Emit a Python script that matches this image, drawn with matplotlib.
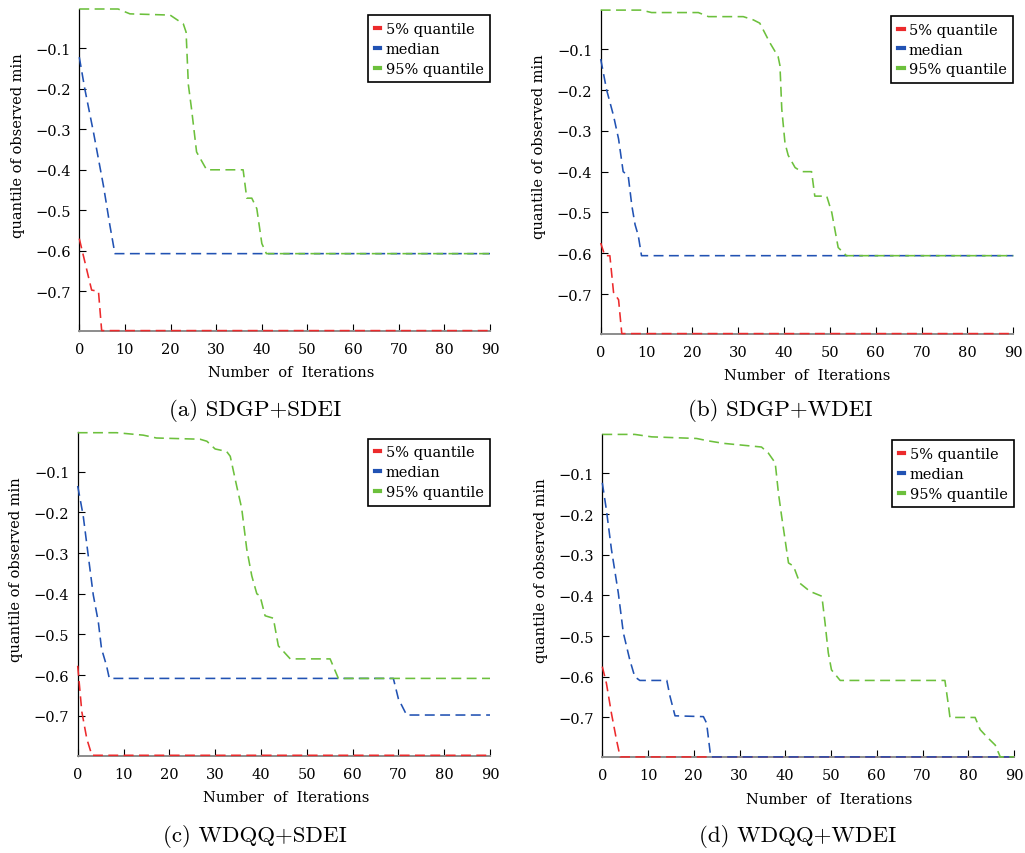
import matplotlib
matplotlib.use("Agg")
import matplotlib.pyplot as plt

# breakpoints: iteration -> quantile of observed min
a_x5 = [0, 2.7, 4.2, 4.9, 90]
a_y5 = [-0.57, -0.697, -0.70, -0.797, -0.797]
a_x50 = [0, 1.2, 3.1, 5.3, 6.7, 7.8, 90]
a_y50 = [-0.122, -0.20, -0.307, -0.44, -0.537, -0.607, -0.607]
a_x95 = [0, 8.5, 11.1, 19.9, 22.8, 23.4, 23.9, 24.6, 25.7, 27.9, 35.9, 36.7, 37.8, 38.9, 40.0, 41.0, 90]
a_y95 = [-0.003, -0.003, -0.015, -0.018, -0.04, -0.06, -0.19, -0.25, -0.356, -0.40, -0.40, -0.47, -0.47,
         -0.496, -0.582, -0.607, -0.607]

b_x5 = [0, 0.9, 2.0, 2.8, 3.9, 4.6, 90]
b_y5 = [-0.575, -0.606, -0.606, -0.696, -0.714, -0.797, -0.797]
b_x50 = [0, 1.3, 2.8, 3.9, 4.9, 6.0, 6.8, 7.5, 8.2, 8.9, 90]
b_y50 = [-0.124, -0.20, -0.263, -0.32, -0.40, -0.41, -0.484, -0.53, -0.557, -0.606, -0.606]
b_x95 = [0, 8.9, 11.1, 21.3, 23.5, 31.1, 33.3, 34.7, 36.9, 38.7, 39.1, 39.5, 40.2, 40.9, 42.4, 43.8,
         46.0, 46.7, 49.3, 50.4, 51.8, 53.6, 90]
b_y95 = [-0.004, -0.004, -0.01, -0.01, -0.02, -0.02, -0.028, -0.036, -0.084, -0.118, -0.14, -0.247,
         -0.33, -0.36, -0.39, -0.40, -0.40, -0.46, -0.46, -0.50, -0.586, -0.606, -0.606]

c_x5 = [0, 0.9, 2.0, 3.1, 90]
c_y5 = [-0.577, -0.69, -0.757, -0.797, -0.797]
c_x50 = [0, 1.2, 2.3, 3.4, 4.5, 5.2, 6.3, 6.9, 68.9, 70.0, 71.8, 90]
c_y50 = [-0.135, -0.208, -0.306, -0.403, -0.469, -0.535, -0.577, -0.608, -0.608, -0.658, -0.698, -0.698]
c_x95 = [0, 8.5, 14.3, 17.2, 26.7, 28.2, 30.0, 32.5, 33.3, 34.7, 35.8, 36.9, 38.0, 39.1, 39.8, 40.9,
         42.7, 43.8, 46.4, 55.1, 56.9, 90]
c_y95 = [-0.004, -0.004, -0.01, -0.017, -0.02, -0.025, -0.044, -0.05, -0.062, -0.135, -0.19, -0.29,
         -0.356, -0.40, -0.405, -0.454, -0.46, -0.528, -0.56, -0.56, -0.608, -0.608]

d_x5 = [0, 0.9, 2.0, 3.1, 3.9, 90]
d_y5 = [-0.575, -0.616, -0.69, -0.755, -0.797, -0.797]
d_x50 = [0, 0.9, 2.0, 3.5, 4.6, 6.0, 7.1, 8.2, 14.1, 14.8, 15.9, 22.1, 22.8, 23.7, 90]
d_y50 = [-0.123, -0.19, -0.287, -0.394, -0.492, -0.558, -0.60, -0.609, -0.609, -0.648, -0.696,
         -0.698, -0.714, -0.797, -0.797]
d_x95 = [0, 7.1, 10.8, 20.6, 23.2, 26.5, 34.8, 36.3, 37.8, 38.5, 39.2, 40.7, 41.8, 43.2, 45.4, 48.0,
         48.7, 49.4, 50.1, 52.0, 74.9, 75.7, 76.0, 81.5, 82.6, 84.0, 85.9, 87.0, 90]
d_y95 = [-0.004, -0.004, -0.01, -0.014, -0.02, -0.026, -0.035, -0.05, -0.074, -0.148, -0.205, -0.32,
         -0.328, -0.37, -0.39, -0.402, -0.468, -0.541, -0.583, -0.609, -0.609, -0.673, -0.70, -0.70,
         -0.73, -0.747, -0.768, -0.797, -0.797]

captions = ["(a) SDGP+SDEI", "(b) SDGP+WDEI", "(c) WDQQ+SDEI", "(d) WDQQ+WDEI"]
series_names = ["5% quantile", "median", "95% quantile"]
xticks = [0, 10, 20, 30, 40, 50, 60, 70, 80, 90]
yticks = [-0.7, -0.6, -0.5, -0.4, -0.3, -0.2, -0.1]

panels = [
    (a_x5, a_y5, a_x50, a_y50, a_x95, a_y95),
    (b_x5, b_y5, b_x50, b_y50, b_x95, b_y95),
    (c_x5, c_y5, c_x50, c_y50, c_x95, c_y95),
    (d_x5, d_y5, d_x50, d_y50, d_x95, d_y95),
]

colors = ["#ec2a2c", "#2152b3", "#6cc03c"]

plt.rcParams["font.family"] = ["DejaVu Serif"]

W, H = 1025, 854
fig = plt.figure(figsize=(W / 100, H / 100), dpi=100)

# axes boxes in pixels: left, top, right, bottom
boxes = [(79.3, 10, 490, 332), (600.7, 10.7, 1013.3, 335),
         (77.7, 433.3, 490, 756.7), (602.3, 435, 1014, 758.3)]
cap_pos = [(255, 411), (780, 411), (255, 837), (798, 837)]
xlab_x = [0.515, 0.50, 0.506, 0.55]

for i, (box, data) in enumerate(zip(boxes, panels)):
    l, t, r, b = box
    ax = fig.add_axes([l / W, 1 - b / H, (r - l) / W, (b - t) / H])
    for k in range(3):
        ax.plot(data[2 * k], data[2 * k + 1], color=colors[k], lw=1.15,
                dashes=(6.2, 3.4), label=series_names[k], clip_on=False, zorder=3)
    ax.set_xlim(0, 90)
    ax.set_ylim(-0.798, -0.003)
    ax.set_xticks(xticks)
    ax.set_yticks(yticks)
    ax.spines["top"].set_visible(False)
    ax.spines["right"].set_visible(False)
    ax.spines["bottom"].set_color("#8c8c8c")
    ax.spines["bottom"].set_linewidth(1.4)
    ax.spines["left"].set_linewidth(0.9)
    ax.tick_params(direction="in", length=5, labelsize=10.5, pad=8)
    ax.tick_params(axis="y", pad=6)
    ax.set_xlabel("Number  of  Iterations", fontsize=10.5)
    ax.xaxis.set_label_coords(xlab_x[i], -0.106)
    ax.set_ylabel("quantile of observed min", fontsize=10.5)
    ax.yaxis.set_label_coords(-0.132, 0.58)
    leg = ax.legend(loc="upper right", bbox_to_anchor=(1.0, 0.98), borderaxespad=0,
                    handlelength=0.4, handletextpad=0.35, fontsize=10.5, fancybox=False,
                    framealpha=1, edgecolor="black", borderpad=0.45, labelspacing=0.4)
    leg.get_frame().set_linewidth(1.2)
    leg.set_zorder(5)
    for h in leg.get_lines():
        h.set_linestyle("-")
        h.set_linewidth(3)
    fig.text(cap_pos[i][0] / W, 1 - cap_pos[i][1] / H, captions[i], family="cmr10",
             fontsize=16.5, ha="center", va="center")

fig.savefig("out.png", dpi=100)
